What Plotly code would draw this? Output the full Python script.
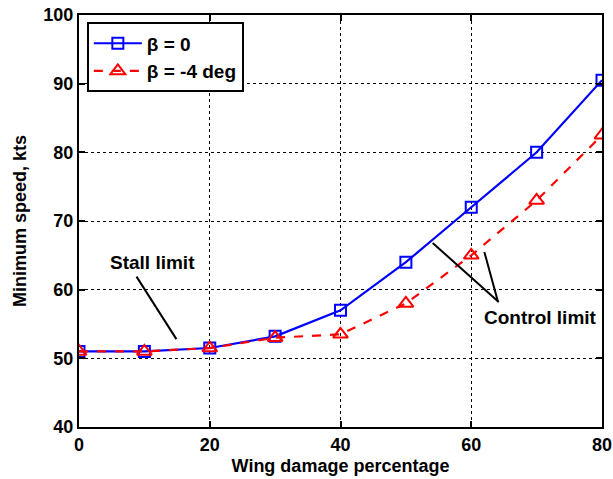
import plotly.graph_objects as go

# Wing damage (%) and minimum controllable speed (kts)
damage = [0, 10, 20, 30, 40, 50, 60, 70, 80]
speed_beta0 = [51, 51, 51.5, 53.2, 57, 64, 72, 80, 90.5]
speed_beta_m4 = [51, 51, 51.5, 53, 53.5, 58, 65, 73, 82.5]

x_ticks = [0, 20, 40, 60, 80]
y_ticks = [40, 50, 60, 70, 80, 90, 100]

FONT = "Liberation Sans"

fig = go.Figure()
fig.add_trace(go.Scatter(
    x=damage, y=speed_beta0, mode="lines+markers", name="β = 0",
    line=dict(color="#0000ff", width=2.2),
    marker=dict(symbol="square-open", size=11, color="#0000ff", line=dict(width=2)),
))
fig.add_trace(go.Scatter(
    x=damage, y=speed_beta_m4, mode="lines+markers", name="β = -4 deg",
    line=dict(color="#ff0000", width=2.2, dash="dash"),
    marker=dict(symbol="triangle-up-open", size=13, color="#ff0000", line=dict(width=2)),
))

# Leader lines for the region labels
leaders = [
    ((8.8, 61.9), (14.9, 52.8)),
    ((54.1, 66.8), (64.2, 58.2)),
    ((62.0, 65.5), (64.1, 58.2)),
]
for (x0, y0), (x1, y1) in leaders:
    fig.add_shape(type="line", xref="x", yref="y", x0=x0, y0=y0, x1=x1, y1=y1,
                  line=dict(color="black", width=2))

fig.add_annotation(x=11.3, y=63.9, text="Stall limit", showarrow=False,
                   font=dict(family=FONT, size=19, color="black", weight="bold"))
fig.add_annotation(x=70.6, y=55.9, text="Control limit", showarrow=False,
                   font=dict(family=FONT, size=19, color="black", weight="bold"))

axis_common = dict(
    showline=True, linecolor="black", linewidth=2, mirror="allticks",
    ticks="inside", ticklen=6, tickcolor="black", tickwidth=2,
    showgrid=True, gridcolor="black", gridwidth=1, griddash="dot",
    zeroline=False, automargin=False,
    tickfont=dict(family=FONT, size=18, color="black", weight="bold"),
)

fig.update_xaxes(
    range=[0, 80], tickvals=x_ticks,
    title=dict(text="Wing damage percentage", standoff=6,
               font=dict(family=FONT, size=18, color="black", weight="bold")),
    **axis_common,
)
fig.update_yaxes(
    range=[40, 100], tickvals=y_ticks,
    title=dict(text="Minimum speed, kts", standoff=12,
               font=dict(family=FONT, size=18, color="black", weight="bold")),
    **axis_common,
)

fig.update_layout(
    width=613, height=479,
    margin=dict(l=79, r=11, t=15, b=52),
    paper_bgcolor="white", plot_bgcolor="white",
    showlegend=True,
    legend=dict(
        x=0.015, y=0.982, xanchor="left", yanchor="top",
        bgcolor="white", bordercolor="black", borderwidth=2,
        font=dict(family=FONT, size=19, color="black", weight="bold"),
        tracegroupgap=0, itemwidth=48,
    ),
)

fig.write_html("out.html")
